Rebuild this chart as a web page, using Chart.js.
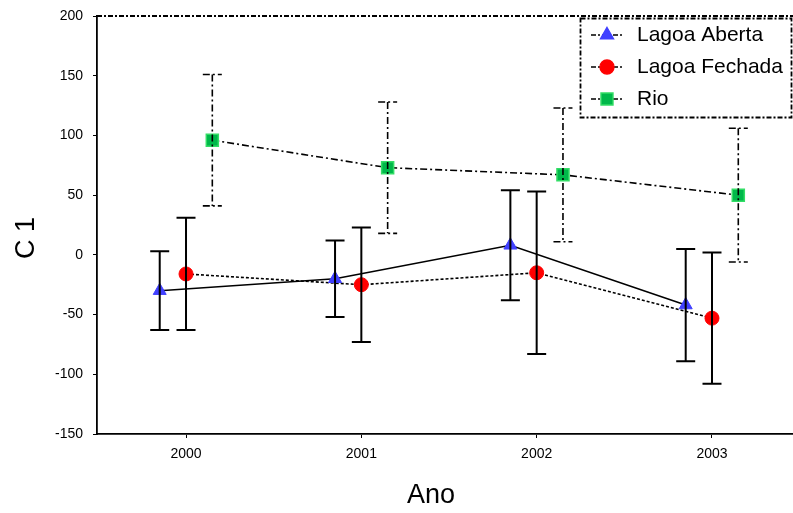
<!DOCTYPE html>
<html><head><meta charset="utf-8">
<script src="https://cdn.jsdelivr.net/npm/chart.js@4.4.1/dist/chart.umd.min.js"></script>
<style>html,body{margin:0;padding:0;background:#fff;}</style>
</head><body>
<canvas id="c" width="793" height="513"></canvas>
<script>
// ---- data ----
const years = [2000, 2001, 2002, 2003];
const yTickValues = [-150, -100, -50, 0, 50, 100, 150, 200];
const seriesNames = ['Lagoa Aberta', 'Lagoa Fechada', 'Rio'];
const abertaMean = [-30, -20, 8, -42];
const abertaErr  = [33, 32, 46, 47];
const fechadaMean = [-16, -25, -15, -53];
const fechadaErr  = [47, 48, 68, 55];
const rioMean = [96, 73, 67, 50];
const rioErr  = [55, 55, 56, 56];
const xLabel = 'Ano';
const yLabel = 'C 1';

// ---- styling (not data) ----
const FONT = "'Liberation Sans', Arial, sans-serif";
const DASHDOT = [5, 2, 2, 2];
const xShift = [-0.15, 0, 0.15];

function pts(mean, shift){ return years.map((yr,i)=>({x: yr + shift, y: mean[i]})); }

const datasets = [
  {label: seriesNames[0], data: pts(abertaMean, xShift[0]), errors: abertaErr,
   borderColor:'#000', borderWidth:1.6, borderDash:[], pointStyle:'triangle', pointRadius:7.5,
   pointBackgroundColor:'#4040ff', pointBorderColor:'#4040ff', pointBorderWidth:1,
   errDash:[], errWidth:2},
  {label: seriesNames[1], data: pts(fechadaMean, xShift[1]), errors: fechadaErr,
   borderColor:'#000', borderWidth:1.6, borderDash:[3,2], pointStyle:'circle', pointRadius:7,
   pointBackgroundColor:'#ff0000', pointBorderColor:'#ff0000', pointBorderWidth:1,
   errDash:[], errWidth:2},
  {label: seriesNames[2], data: pts(rioMean, xShift[2]), errors: rioErr,
   borderColor:'#000', borderWidth:1.6, borderDash:[7,3,2,3], pointStyle:'rect', pointRadius:8.5,
   pointBackgroundColor:'#00b84a', pointBorderColor:'#33dd66', pointBorderWidth:1.5,
   errDash:[7,3,2,3], errWidth:1.6}
];
datasets.forEach(d=>{ d.fill=false; d.tension=0; d.showLine=true; });

const errorBars = {
  id:'errorBars',
  afterDatasetsDraw(chart){
    const ctx = chart.ctx, ys = chart.scales.y;
    chart.data.datasets.forEach((ds,i)=>{
      const meta = chart.getDatasetMeta(i);
      meta.data.forEach((pt,j)=>{
        const v = ds.data[j].y, e = ds.errors[j];
        const x = pt.x, y1 = ys.getPixelForValue(v+e), y2 = ys.getPixelForValue(v-e);
        ctx.save();
        ctx.strokeStyle = '#000'; ctx.lineWidth = ds.errWidth; ctx.setLineDash(ds.errDash);
        ctx.beginPath();
        ctx.moveTo(x, y1); ctx.lineTo(x, y2);
        ctx.moveTo(x-9.5, y1); ctx.lineTo(x+9.5, y1);
        ctx.moveTo(x-9.5, y2); ctx.lineTo(x+9.5, y2);
        ctx.stroke();
        ctx.restore();
      });
    });
  }
};

const frame = {
  id:'frame',
  afterDraw(chart){
    const {ctx, chartArea:a} = chart;
    ctx.save();
    ctx.strokeStyle = '#000'; ctx.lineWidth = 1.8; ctx.setLineDash(DASHDOT);
    ctx.beginPath(); ctx.moveTo(a.left, a.top); ctx.lineTo(a.right, a.top); ctx.stroke();
    ctx.restore();
  }
};

const axisTitles = {
  id:'axisTitles',
  afterDraw(chart){
    const ctx = chart.ctx;
    ctx.save();
    ctx.fillStyle = '#000'; ctx.font = '27px ' + FONT;
    ctx.textAlign = 'center'; ctx.textBaseline = 'middle';
    ctx.fillText(xLabel, 431, 496);
    ctx.translate(27, 238); ctx.rotate(-Math.PI/2);
    ctx.fillText(yLabel, 0, 0);
    ctx.restore();
  }
};

const legendBox = {
  id:'legendBox',
  afterDraw(chart){
    const ctx = chart.ctx;
    ctx.save();
    ctx.strokeStyle = '#000'; ctx.lineWidth = 1.8; ctx.setLineDash(DASHDOT);
    ctx.strokeRect(580.5, 18.5, 211, 99);
    chart.data.datasets.forEach((ds,i)=>{
      const y = 35 + i*32;
      ctx.setLineDash(DASHDOT); ctx.lineWidth = 1.4; ctx.strokeStyle = '#000';
      ctx.beginPath(); ctx.moveTo(591, y); ctx.lineTo(622, y); ctx.stroke();
      ctx.setLineDash([]);
      ctx.fillStyle = ds.pointBackgroundColor; ctx.strokeStyle = ds.pointBorderColor;
      Chart.helpers.drawPoint(ctx, {pointStyle: ds.pointStyle, radius: ds.pointRadius, borderWidth: ds.pointBorderWidth, rotation:0}, 607, y);
      ctx.fillStyle = '#000';
      ctx.font = '21px ' + FONT; ctx.textBaseline = 'middle'; ctx.textAlign = 'left';
      ctx.fillText(ds.label, 637, y);
    });
    ctx.restore();
  }
};

Chart.defaults.font.family = FONT;
Chart.defaults.color = '#000';

function zeroPad(s){ s.paddingTop = 0; s.paddingBottom = 0; s.paddingLeft = 0; s.paddingRight = 0; }

new Chart(document.getElementById('c'), {
  type: 'line',
  data: { datasets },
  plugins: [errorBars, frame, axisTitles, legendBox],
  options: {
    responsive: false, animation: false, devicePixelRatio: 1,
    layout: { autoPadding: false, padding: { top: 16, left: 0, right: 0, bottom: 0 } },
    plugins: { legend: { display: false }, tooltip: { enabled: false } },
    scales: {
      x: {
        type: 'linear', min: 1999.4923, max: 2003.462,
        afterBuildTicks: s => { s.ticks = years.map(v => ({value: v})); },
        afterFit: s => { s.height = 79; zeroPad(s); },
        ticks: { callback: v => String(v), font: { size: 14 }, padding: 8, maxRotation: 0, autoSkip: false },
        grid: { drawOnChartArea: false, drawTicks: true, tickLength: 4, color: '#000', lineWidth: 1 },
        border: { display: true, color: '#000', width: 1.8, dash: DASHDOT },
        title: { display: false }
      },
      y: {
        type: 'linear', min: -150, max: 200,
        afterBuildTicks: s => { s.ticks = yTickValues.map(v => ({value: v})); },
        afterFit: s => { s.width = 97; zeroPad(s); },
        ticks: { callback: v => String(v), font: { size: 14 }, padding: 10 },
        grid: { drawOnChartArea: false, drawTicks: true, tickLength: 4, color: '#000', lineWidth: 1 },
        border: { display: true, color: '#000', width: 1.8, dash: DASHDOT },
        title: { display: false }
      }
    }
  }
});
</script>
</body></html>
